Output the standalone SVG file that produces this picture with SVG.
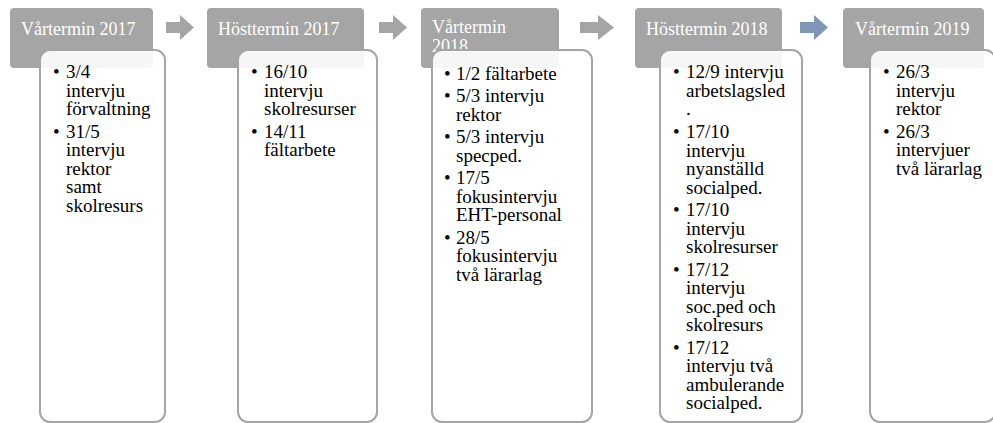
<svg xmlns="http://www.w3.org/2000/svg" width="993" height="423" viewBox="0 0 993 423">
<style>
.hdr{fill:#A5A5A5}
.body{fill:#FFFFFF;fill-opacity:0.9;stroke:#A5A5A5;stroke-width:2}
.ht{font-family:"Liberation Serif","Times New Roman",serif;font-size:18px;fill:#FFFFFF}
.bt{font-family:"Liberation Serif","Times New Roman",serif;font-size:19px;fill:#000000}
.arr{fill:#A5A5A5}
.arr.blue{fill:#7F96B6}
</style>
<rect width="993" height="423" fill="#FFFFFF"/>
<g id="connectors">
  <polygon class="arr" points="166,22 180,22 180,15 194,27.5 180,40 180,33 166,33"/>
  <polygon class="arr" points="379,22 393,22 393,15 407,27.5 393,40 393,33 379,33"/>
  <polygon class="arr" points="580,22 598,22 598,15 614,27.5 598,40 598,33 580,33"/>
  <polygon class="arr blue" points="800,22 814,22 814,15 828,27.5 814,40 814,33 800,33"/>
</g>
<g id="node1">
  <rect class="hdr" x="10" y="8" width="143" height="60" rx="4"/>
  <text class="ht" x="21" y="35">Vårtermin 2017</text>
  <rect class="body" x="40" y="50" width="125" height="372" rx="10"/>
  <g class="bt">
    <text x="53" y="78">•</text><text x="66" y="78">3/4</text>
    <text x="66" y="96.5">intervju</text>
    <text x="66" y="115">förvaltning</text>
    <text x="53" y="137.5">•</text><text x="66" y="137.5">31/5</text>
    <text x="66" y="156">intervju</text>
    <text x="66" y="174.5">rektor</text>
    <text x="66" y="193">samt</text>
    <text x="66" y="211.5">skolresurs</text>
  </g>
</g>
<g id="node2">
  <rect class="hdr" x="207" y="8" width="157" height="60" rx="4"/>
  <text class="ht" x="218" y="35">Hösttermin 2017</text>
  <rect class="body" x="238" y="50" width="139" height="372" rx="10"/>
  <g class="bt">
    <text x="251" y="78">•</text><text x="264" y="78">16/10</text>
    <text x="264" y="96.5">intervju</text>
    <text x="264" y="115">skolresurser</text>
    <text x="251" y="137.5">•</text><text x="264" y="137.5">14/11</text>
    <text x="264" y="156">fältarbete</text>
  </g>
</g>
<g id="node3">
  <rect class="hdr" x="421" y="8" width="138" height="60" rx="4"/>
  <text class="ht" x="432" y="33">Vårtermin</text>
  <text class="ht" x="432" y="52">2018</text>
  <rect class="body" x="432" y="50" width="160" height="372" rx="10"/>
  <g class="bt">
    <text x="444" y="79.5">•</text><text x="456" y="79.5">1/2 fältarbete</text>
    <text x="444" y="102">•</text><text x="456" y="102">5/3 intervju</text>
    <text x="456" y="120.5">rektor</text>
    <text x="444" y="143">•</text><text x="456" y="143">5/3 intervju</text>
    <text x="456" y="161.5">specped.</text>
    <text x="444" y="184">•</text><text x="456" y="184">17/5</text>
    <text x="456" y="202.5">fokusintervju</text>
    <text x="456" y="221">EHT-personal</text>
    <text x="444" y="243.5">•</text><text x="456" y="243.5">28/5</text>
    <text x="456" y="262">fokusintervju</text>
    <text x="456" y="280.5">två lärarlag</text>
  </g>
</g>
<g id="node4">
  <rect class="hdr" x="635" y="8" width="147" height="60" rx="4"/>
  <text class="ht" x="646" y="35">Hösttermin 2018</text>
  <rect class="body" x="660" y="50" width="142" height="372" rx="10"/>
  <g class="bt">
    <text x="673" y="78">•</text><text x="686" y="78">12/9 intervju</text>
    <text x="686" y="96.5">arbetslagsled</text>
    <text x="686" y="115">.</text>
    <text x="673" y="138">•</text><text x="686" y="138">17/10</text>
    <text x="686" y="156.5">intervju</text>
    <text x="686" y="175">nyanställd</text>
    <text x="686" y="193.5">socialped.</text>
    <text x="673" y="216">•</text><text x="686" y="216">17/10</text>
    <text x="686" y="234.5">intervju</text>
    <text x="686" y="253">skolresurser</text>
    <text x="673" y="275.5">•</text><text x="686" y="275.5">17/12</text>
    <text x="686" y="294">intervju</text>
    <text x="686" y="312.5">soc.ped och</text>
    <text x="686" y="331">skolresurs</text>
    <text x="673" y="353.5">•</text><text x="686" y="353.5">17/12</text>
    <text x="686" y="372">intervju två</text>
    <text x="686" y="390.5">ambulerande</text>
    <text x="686" y="409">socialped.</text>
  </g>
</g>
<g id="node5">
  <rect class="hdr" x="843" y="8" width="141" height="60" rx="4"/>
  <text class="ht" x="855" y="35">Vårtermin 2019</text>
  <rect class="body" x="870" y="50" width="125" height="372" rx="10"/>
  <g class="bt">
    <text x="883" y="78">•</text><text x="896" y="78">26/3</text>
    <text x="896" y="96.5">intervju</text>
    <text x="896" y="115">rektor</text>
    <text x="883" y="137.5">•</text><text x="896" y="137.5">26/3</text>
    <text x="896" y="156">intervjuer</text>
    <text x="896" y="174.5">två lärarlag</text>
  </g>
</g>
</svg>
